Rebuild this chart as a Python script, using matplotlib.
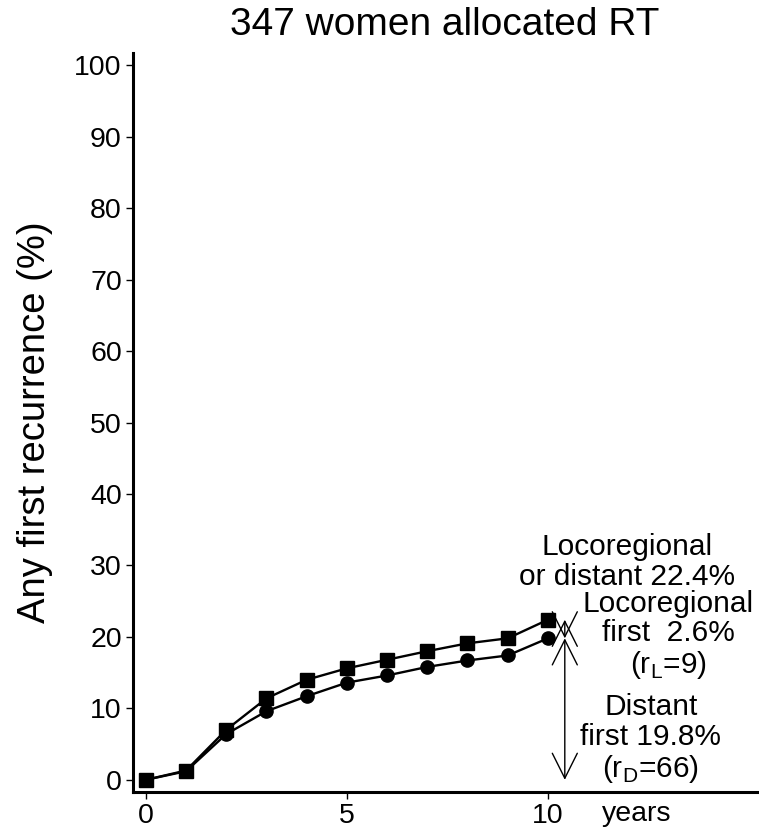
import numpy as np
import matplotlib
matplotlib.use('Agg')
import matplotlib.pyplot as plt

plt.rcParams['font.family'] = ['Liberation Sans', 'DejaVu Sans']

years = [0, 1, 2, 3, 4, 5, 6, 7, 8, 9, 10]
# locoregional or distant (any first recurrence), %
any_first = [0, 1.3, 7.0, 11.4, 14.0, 15.6, 16.8, 18.0, 19.1, 19.8, 22.4]
# distant first, %
distant_first = [0, 1.2, 6.4, 9.6, 11.7, 13.6, 14.6, 15.8, 16.7, 17.4, 19.8]

fig = plt.figure(figsize=(7.59, 8.34), dpi=100)
ax = fig.add_axes([0.1752, 0.0504, 0.8248, 0.886])

ax.plot(years, distant_first, color='black', lw=1.7, marker='o', ms=9.5, zorder=3)
ax.plot(years, any_first, color='black', lw=1.7, marker='s', ms=10.5, zorder=4)

# arrows showing the split at 10 years
xa = 10.42
arrow = dict(arrowstyle='<->,head_length=0.9,head_width=0.45', color='black',
             lw=1.0, shrinkA=0, shrinkB=0, mutation_scale=20)
ax.annotate('', xy=(xa, 0), xytext=(xa, distant_first[-1]), arrowprops=arrow)
ax.annotate('', xy=(xa, distant_first[-1]), xytext=(xa, any_first[-1]), arrowprops=arrow)

ax.text(11.97, 30.5, 'Locoregional\nor distant 22.4%', ha='center', va='center',
        fontsize=21.5, linespacing=1.1)
ax.text(12.99, 20.2, 'Locoregional\nfirst  2.6%\n(r$_\\mathregular{L}$=9)', ha='center',
        va='center', fontsize=21.5, linespacing=1.08)
ax.text(12.56, 5.7, 'Distant\nfirst 19.8%\n(r$_\\mathregular{D}$=66)', ha='center',
        va='center', fontsize=21.5, linespacing=1.08)

ax.set_xlim(-0.32, 15.25)
ax.set_ylim(-1.7, 101.7)
ax.set_xticks([0, 5, 10])
ax.set_yticks(np.arange(0, 101, 10))
ax.tick_params(labelsize=20.5, width=1.0, length=5, direction='out', pad=3)
ax.text(12.2, -3.0, 'years', ha='center', va='top', fontsize=20.5)

for side in ['top', 'right']:
    ax.spines[side].set_visible(False)
for side in ['left', 'bottom']:
    ax.spines[side].set_linewidth(2.2)

ax.set_ylabel('Any first recurrence (%)', fontsize=27.5)
ax.yaxis.set_label_coords(-0.128, 0.5)
fig.text(445 / 759, 1 - 35 / 834, '347 women allocated RT', ha='center',
         va='baseline', fontsize=28)

fig.savefig('out.png', dpi=100)
